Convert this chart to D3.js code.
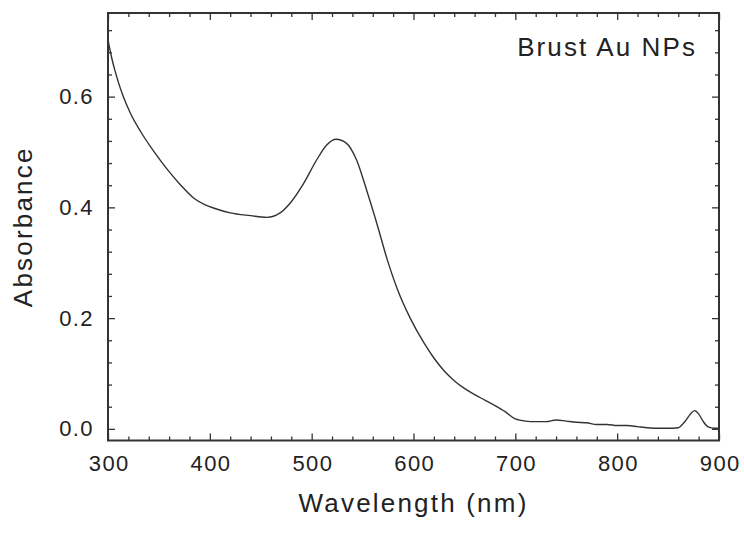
<!DOCTYPE html>
<html>
<head>
<meta charset="utf-8">
<script src="https://cdn.jsdelivr.net/npm/d3@7"></script>
<style>
  body { margin: 0; background: #fff; }
  svg text { font-family: "Liberation Sans", Arial, sans-serif; fill: #222; }
</style>
</head>
<body>
<svg id="chart" width="744" height="535"></svg>
<script>
// absorbance spectrum
const wavelength = [300, 302, 304, 307, 310, 315, 322, 332, 345, 358, 371, 384, 395, 405, 420, 440, 456, 469, 479, 492, 505, 515, 524, 534, 544, 554, 564, 574, 584, 597, 610, 620, 630, 640, 650, 660, 670, 680, 690, 700, 710, 720, 730, 740, 750, 760, 770, 780, 790, 800, 810, 820, 830, 840, 850, 860, 866, 872, 876, 880, 885, 890, 895, 900];
const absorbance = [0.703, 0.684, 0.667, 0.646, 0.627, 0.600, 0.570, 0.537, 0.501, 0.469, 0.441, 0.417, 0.405, 0.398, 0.39, 0.385, 0.382, 0.39, 0.408, 0.443, 0.486, 0.513, 0.523, 0.516, 0.486, 0.431, 0.371, 0.307, 0.253, 0.199, 0.156, 0.128, 0.105, 0.087, 0.073, 0.062, 0.052, 0.042, 0.031, 0.018, 0.014, 0.013, 0.013, 0.016, 0.014, 0.012, 0.011, 0.008, 0.008, 0.006, 0.006, 0.004, 0.002, 0.001, 0.001, 0.002, 0.012, 0.027, 0.033, 0.027, 0.012, 0.003, 0.001, 0.001];

const xMajor = [300, 400, 500, 600, 700, 800, 900];
const yMajor = [0.0, 0.2, 0.4, 0.6];
const xTitle = "Wavelength (nm)";
const yTitle = "Absorbance";
const label = "Brust Au NPs";

const svg = d3.select("#chart");
const m = { left: 108, right: 719, top: 13, bottom: 440.5 };

const x = d3.scaleLinear().domain([300, 900]).range([m.left, m.right]);
const y = d3.scaleLinear().domain([-0.021, 0.751]).range([m.bottom, m.top]);

const xMinor = d3.range(300, 901, 20).filter(v => v % 100 !== 0);
const yMinor = d3.range(0, 0.75, 0.04).map(v => +v.toFixed(2)).filter(v => Math.round(v * 100) % 20 !== 0);

const majorLen = 7, minorLen = 4;

function styleAxis(g) {
  g.select(".domain").remove();
  g.selectAll(".tick line").attr("stroke", "#333").attr("stroke-width", 1.3);
}

// bottom: major with labels
svg.append("g")
  .attr("transform", `translate(0,${m.bottom})`)
  .call(d3.axisBottom(x).tickValues(xMajor).tickSize(-majorLen).tickPadding(15).tickFormat(d3.format("d")))
  .call(styleAxis)
  .call(g => g.selectAll("text").attr("font-size", 22).attr("letter-spacing", 1.4).attr("dx", 0.7));
svg.append("g")
  .attr("transform", `translate(0,${m.bottom})`)
  .call(d3.axisBottom(x).tickValues(xMinor).tickSize(-minorLen).tickFormat(""))
  .call(styleAxis);

// top mirror
svg.append("g")
  .attr("transform", `translate(0,${m.top})`)
  .call(d3.axisTop(x).tickValues(xMajor).tickSize(-majorLen).tickFormat(""))
  .call(styleAxis);
svg.append("g")
  .attr("transform", `translate(0,${m.top})`)
  .call(d3.axisTop(x).tickValues(xMinor).tickSize(-minorLen).tickFormat(""))
  .call(styleAxis);

// left: major with labels
svg.append("g")
  .attr("transform", `translate(${m.left},0)`)
  .call(d3.axisLeft(y).tickValues(yMajor).tickSize(-majorLen).tickPadding(14).tickFormat(d3.format(".1f")))
  .call(styleAxis)
  .call(g => g.selectAll("text").attr("font-size", 22).attr("letter-spacing", 1.4));
svg.append("g")
  .attr("transform", `translate(${m.left},0)`)
  .call(d3.axisLeft(y).tickValues(yMinor).tickSize(-minorLen).tickFormat(""))
  .call(styleAxis);

// right mirror
svg.append("g")
  .attr("transform", `translate(${m.right},0)`)
  .call(d3.axisRight(y).tickValues(yMajor).tickSize(-majorLen).tickFormat(""))
  .call(styleAxis);
svg.append("g")
  .attr("transform", `translate(${m.right},0)`)
  .call(d3.axisRight(y).tickValues(yMinor).tickSize(-minorLen).tickFormat(""))
  .call(styleAxis);

// frame
svg.append("rect")
  .attr("x", m.left).attr("y", m.top)
  .attr("width", m.right - m.left).attr("height", m.bottom - m.top)
  .attr("fill", "none").attr("stroke", "#333").attr("stroke-width", 2);

// spectrum
const line = d3.line()
  .x((d, i) => x(wavelength[i]))
  .y(d => y(d))
  .curve(d3.curveMonotoneX);

svg.append("path")
  .datum(absorbance)
  .attr("d", line)
  .attr("fill", "none")
  .attr("stroke", "#333")
  .attr("stroke-width", 1.4);

// titles
svg.append("text")
  .attr("x", (m.left + m.right) / 2).attr("y", 512)
  .attr("text-anchor", "middle")
  .attr("font-size", 26).attr("letter-spacing", 2.2)
  .text(xTitle);

svg.append("text")
  .attr("transform", `translate(32,${(m.top + m.bottom) / 2}) rotate(-90)`)
  .attr("text-anchor", "middle")
  .attr("font-size", 26).attr("letter-spacing", 2.2)
  .text(yTitle);

svg.append("text")
  .attr("x", 697).attr("y", 56)
  .attr("text-anchor", "end")
  .attr("font-size", 26).attr("letter-spacing", 2.1)
  .text(label);
</script>
</body>
</html>
